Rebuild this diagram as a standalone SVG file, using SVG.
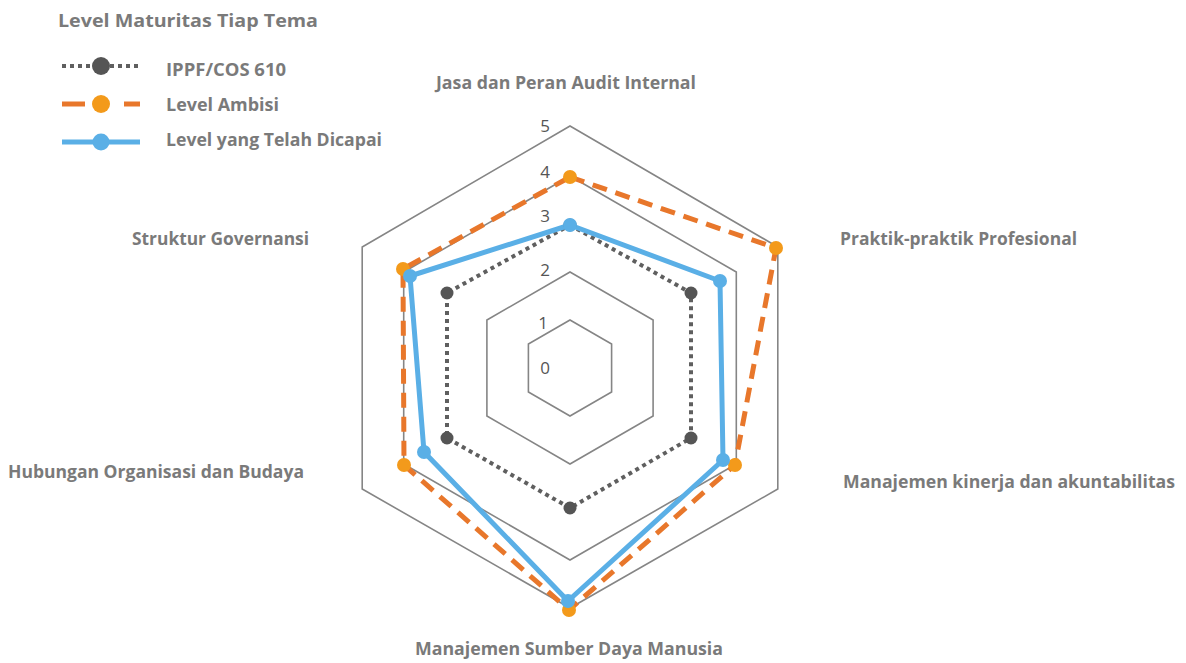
<svg xmlns="http://www.w3.org/2000/svg" width="1186" height="663" viewBox="0 0 1186 663">
<style>
.lbl{font-family:"Open Sans","Liberation Sans",sans-serif;font-weight:bold;font-size:18px;fill:#7a7a7a}
.num{font-family:"Open Sans","Liberation Sans",sans-serif;font-size:17px;fill:#555;text-anchor:middle}
.grid{fill:none;stroke:#858585;stroke-width:1.6}
.ippf{fill:none;stroke:#5f5f5f;stroke-width:4;stroke-dasharray:4 4}
.amb{fill:none;stroke:#e8772b;stroke-width:5;stroke-dasharray:15 9}
.ach{fill:none;stroke:#5aafe6;stroke-width:5;stroke-linejoin:round}
.dg{fill:#555}
.do{fill:#f39a1b}
.db{fill:#5aafe6}
</style>
<rect width="1186" height="663" fill="#fff"/>
<g id="legend">
<text class="lbl" x="58" y="27" textLength="260" lengthAdjust="spacingAndGlyphs">Level Maturitas Tiap Tema</text>
<g id="legend-ippf">
<line x1="62" y1="66" x2="140" y2="66" class="ippf"/>
<circle cx="101" cy="66" r="9" class="dg"/>
<text class="lbl" x="166" y="76" textLength="120" lengthAdjust="spacingAndGlyphs">IPPF/COS 610</text>
</g>
<g id="legend-ambisi">
<line x1="62" y1="104" x2="85" y2="104" stroke="#e8772b" stroke-width="5"/>
<line x1="124" y1="104" x2="140" y2="104" stroke="#e8772b" stroke-width="5"/>
<circle cx="101" cy="104" r="9" class="do"/>
<text class="lbl" x="166" y="111" textLength="113" lengthAdjust="spacingAndGlyphs">Level Ambisi</text>
</g>
<g id="legend-achieved">
<line x1="62" y1="142" x2="140" y2="142" stroke="#5aafe6" stroke-width="5"/>
<circle cx="101" cy="142" r="8.5" class="db"/>
<text class="lbl" x="166" y="145.5" textLength="216" lengthAdjust="spacingAndGlyphs">Level yang Telah Dicapai</text>
</g>
</g>
<g id="grid">
<polygon class="grid" points="570,320 611.6,344 611.6,392 570,416 528.4,392 528.4,344"/>
<polygon class="grid" points="570,272 653.1,320 653.1,416 570,464 486.9,416 486.9,320"/>
<polygon class="grid" points="570,176 736.3,272 736.3,464 570,560 403.7,464 403.7,272"/>
<polygon class="grid" points="570,126 777.8,247 777.8,489 570,608 362.2,489 362.2,247"/>
</g>
<g id="scale">
<text class="num" x="545" y="132">5</text>
<text class="num" x="545" y="177.5">4</text>
<text class="num" x="545" y="221.5">3</text>
<text class="num" x="545" y="276">2</text>
<text class="num" x="543" y="328.5">1</text>
<text class="num" x="545" y="374">0</text>
</g>
<g id="connectors">
<polygon class="ippf" points="570,225 691,293 691,438 570,508 447,438 447,293"/>
<polygon class="amb" points="570,177 776,248 735,465 569,610 404,465 403,269"/>
<polygon class="ach" points="570,225 720,281 723,460 568,601 424,452 410,276"/>
</g>
<g id="series-ippf">
<circle cx="570" cy="225" r="6.5" class="dg"/>
<circle cx="691" cy="293" r="6.5" class="dg"/>
<circle cx="691" cy="438" r="6.5" class="dg"/>
<circle cx="570" cy="508" r="6.5" class="dg"/>
<circle cx="447" cy="438" r="6.5" class="dg"/>
<circle cx="447" cy="293" r="6.5" class="dg"/>
</g>
<g id="series-ambisi">
<circle cx="570" cy="177" r="7" class="do"/>
<circle cx="776" cy="248" r="7" class="do"/>
<circle cx="735" cy="465" r="7" class="do"/>
<circle cx="569" cy="610" r="7" class="do"/>
<circle cx="404" cy="465" r="7" class="do"/>
<circle cx="403" cy="269" r="7" class="do"/>
</g>
<g id="series-achieved">
<circle cx="570" cy="225" r="7" class="db"/>
<circle cx="720" cy="281" r="7" class="db"/>
<circle cx="723" cy="460" r="7" class="db"/>
<circle cx="568" cy="601" r="7" class="db"/>
<circle cx="424" cy="452" r="7" class="db"/>
<circle cx="410" cy="276" r="7" class="db"/>
</g>
<g id="axis-labels">
<text id="lbl-jasa" class="lbl" x="436" y="89" textLength="260" lengthAdjust="spacingAndGlyphs">Jasa dan Peran Audit Internal</text>
<text id="lbl-praktik" class="lbl" x="840" y="245" textLength="237" lengthAdjust="spacingAndGlyphs">Praktik-praktik Profesional</text>
<text id="lbl-kinerja" class="lbl" x="843" y="488" textLength="332" lengthAdjust="spacingAndGlyphs">Manajemen kinerja dan akuntabilitas</text>
<text id="lbl-sdm" class="lbl" x="415" y="655" textLength="308" lengthAdjust="spacingAndGlyphs">Manajemen Sumber Daya Manusia</text>
<text id="lbl-hubungan" class="lbl" x="8" y="478" textLength="296" lengthAdjust="spacingAndGlyphs">Hubungan Organisasi dan Budaya</text>
<text id="lbl-struktur" class="lbl" x="132" y="245" textLength="177" lengthAdjust="spacingAndGlyphs">Struktur Governansi</text>
</g>
</svg>
